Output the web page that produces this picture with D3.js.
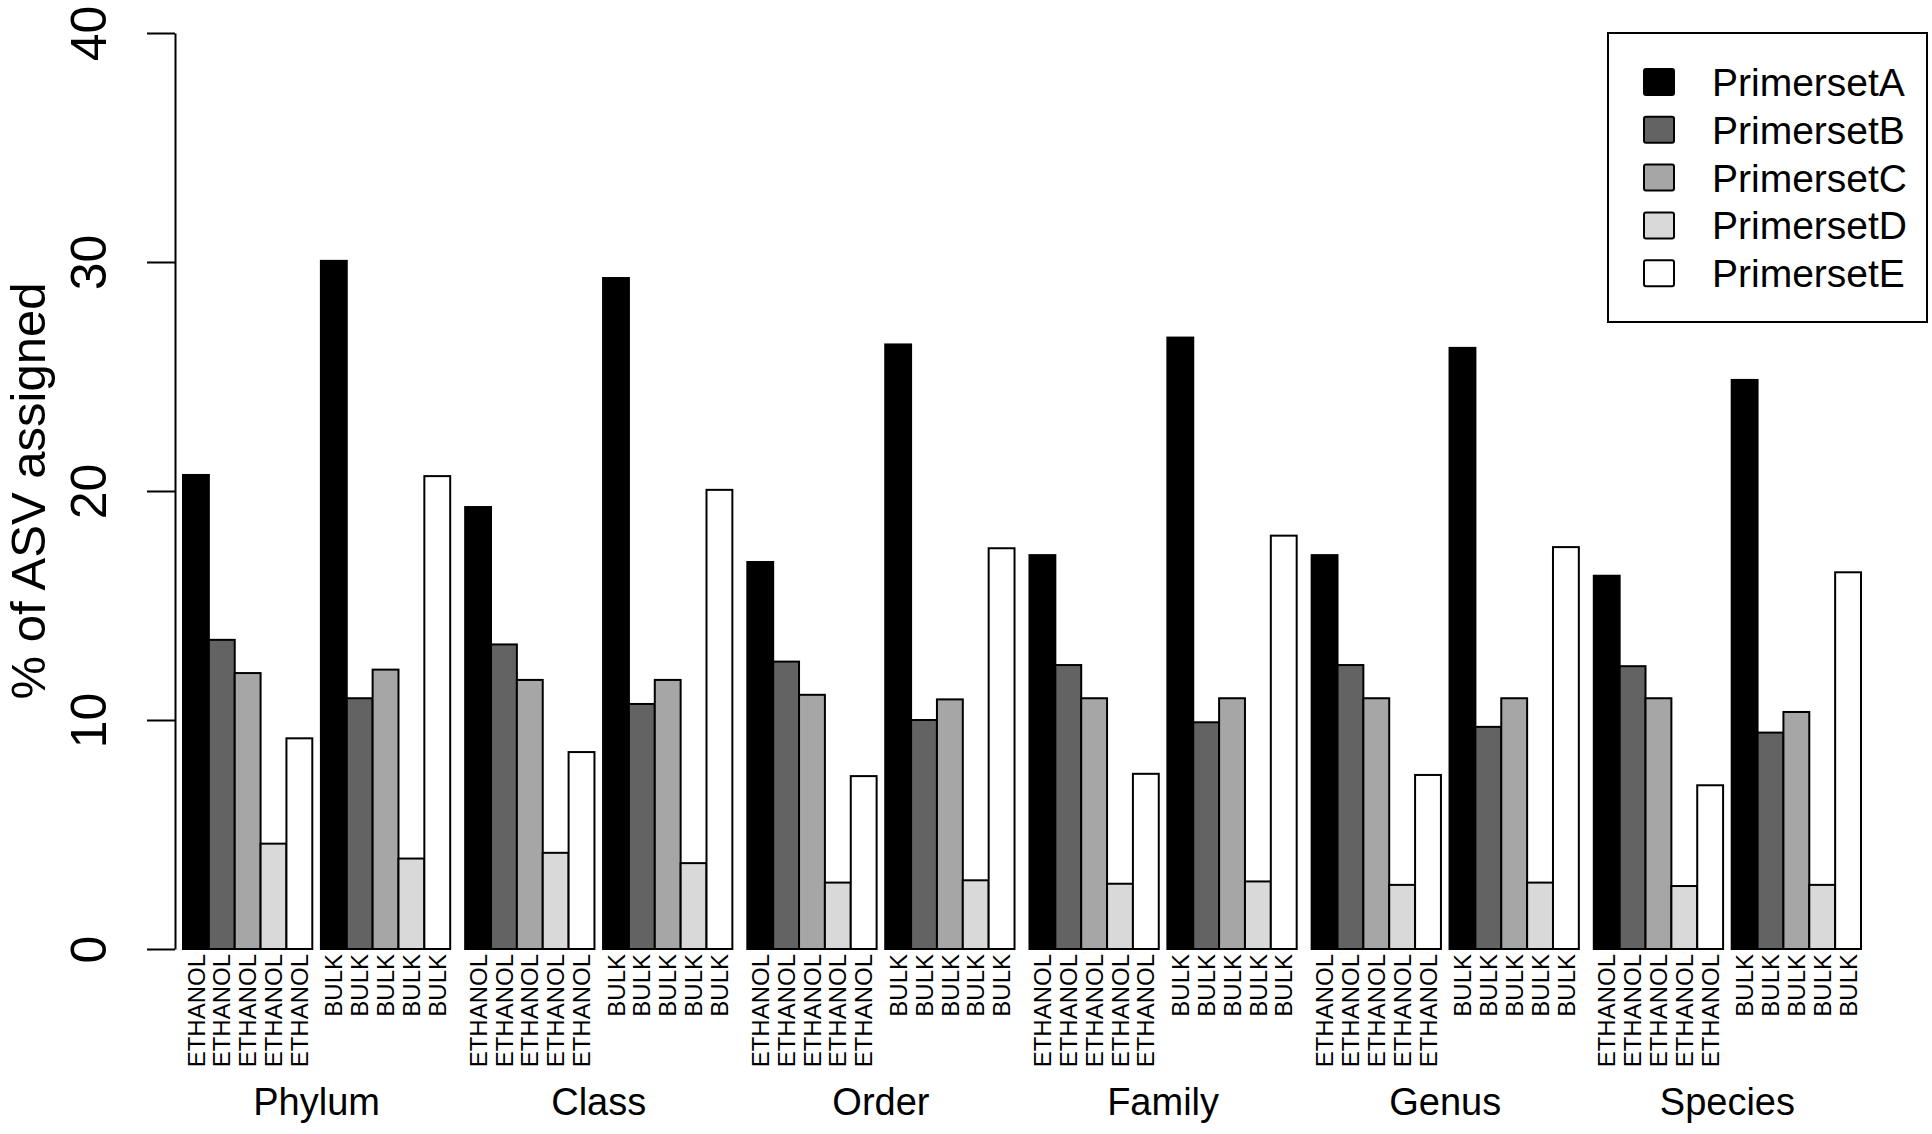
<!DOCTYPE html>
<html>
<head>
<meta charset="utf-8">
<script src="https://cdn.jsdelivr.net/npm/d3@7"></script>
<style>
  body { margin: 0; background: #fff; }
  text { font-family: "Liberation Sans", Arial, Helvetica, sans-serif; fill: #000; }
</style>
</head>
<body>
<svg width="1932" height="1134"></svg>
<script>
// taxonomic levels, preservation method, primer sets
var levels = ["Phylum", "Class", "Order", "Family", "Genus", "Species"];
var methods = ["ETHANOL", "BULK"];
var primersets = ["PrimersetA", "PrimersetB", "PrimersetC", "PrimersetD", "PrimersetE"];
var yTicks = [0, 10, 20, 30, 40];

// % of ASV assigned, order: Phylum ETHANOL, Phylum BULK, Class ETHANOL, ...
var primersetA = [20.7, 30.05, 19.3, 29.3, 16.9, 26.4, 17.2, 26.7, 17.2, 26.25, 16.3, 24.85];
var primersetB = [13.5, 10.95, 13.3, 10.7, 12.55, 10.0, 12.4, 9.9, 12.4, 9.7, 12.35, 9.45];
var primersetC = [12.05, 12.2, 11.75, 11.75, 11.1, 10.9, 10.95, 10.95, 10.95, 10.95, 10.95, 10.35];
var primersetD = [4.6, 3.95, 4.2, 3.75, 2.9, 3.0, 2.85, 2.95, 2.8, 2.9, 2.75, 2.8];
var primersetE = [9.2, 20.65, 8.6, 20.05, 7.55, 17.5, 7.65, 18.05, 7.6, 17.55, 7.15, 16.45];

var values = [primersetA, primersetB, primersetC, primersetD, primersetE];
var fills = ["#000000", "#636363", "#a6a6a6", "#d9d9d9", "#ffffff"];

var svg = d3.select("svg");

var y = d3.scaleLinear().domain([0, 40]).range([949, 33]);

// nested band scales: level -> method -> primer set
var x0 = d3.scaleBand().domain(levels).range([183, 1861]).paddingInner(0.053);
var x1 = d3.scaleBand().domain(methods).range([0, x0.bandwidth()]).paddingInner(0.0624);
var x2 = d3.scaleBand().domain(primersets).range([0, x1.bandwidth()]);

var color = d3.scaleOrdinal().domain(primersets).range(fills);

// flatten into bar records
var bars = [];
levels.forEach(function(lv, i) {
  methods.forEach(function(m, j) {
    primersets.forEach(function(p, k) {
      bars.push({level: lv, method: m, primer: p, value: values[k][i * 2 + j]});
    });
  });
});

function barX(d) { return x0(d.level) + x1(d.method) + x2(d.primer); }

svg.append("g")
  .selectAll("rect")
  .data(bars)
  .enter().append("rect")
    .attr("x", barX)
    .attr("y", function(d) { return y(d.value); })
    .attr("width", x2.bandwidth())
    .attr("height", function(d) { return y(0) - y(d.value); })
    .attr("fill", function(d) { return color(d.primer); })
    .attr("stroke", "#000")
    .attr("stroke-width", 2);

// y axis, R style: vertical tick labels
var yAxis = svg.append("g")
    .attr("transform", "translate(175,0)")
    .call(d3.axisLeft(y).tickValues(yTicks).tickSize(28).tickSizeOuter(0));
yAxis.select(".domain").attr("stroke-width", 2);
yAxis.selectAll(".tick line").attr("stroke-width", 2);
yAxis.selectAll(".tick text")
    .attr("x", 0)
    .attr("y", -69)
    .attr("dy", 0)
    .attr("transform", "rotate(-90)")
    .attr("text-anchor", "middle")
    .style("font-size", "50px")
    .style("font-family", "'Liberation Sans', Arial, sans-serif");

svg.append("text")
    .attr("transform", "translate(45," + ((y(0) + y(40)) / 2) + ") rotate(-90)")
    .attr("text-anchor", "middle")
    .style("font-size", "49px")
    .text("% of ASV assigned");

// bar labels (ETHANOL / BULK under each bar)
svg.append("g")
  .selectAll("text")
  .data(bars)
  .enter().append("text")
    .attr("transform", function(d) {
      return "translate(" + (barX(d) + x2.bandwidth() / 2) + ",954) rotate(-90)";
    })
    .attr("text-anchor", "end")
    .attr("dy", "0.36em")
    .style("font-size", "24px")
    .text(function(d) { return d.method; });

// level labels
svg.append("g")
  .selectAll("text")
  .data(levels)
  .enter().append("text")
    .attr("x", function(d) { return x0(d) + x0.bandwidth() / 2; })
    .attr("y", 1115)
    .attr("text-anchor", "middle")
    .style("font-size", "38px")
    .text(function(d) { return d; });

// legend
var legend = svg.append("g");
legend.append("rect")
    .attr("x", 1608).attr("y", 33)
    .attr("width", 319).attr("height", 289)
    .attr("fill", "#fff").attr("stroke", "#000").attr("stroke-width", 2);

var rows = legend.selectAll(".row")
  .data(primersets)
  .enter().append("g")
    .attr("class", "row")
    .attr("transform", function(d, i) { return "translate(0," + (82 + i * 47.8) + ")"; });

rows.append("rect")
    .attr("x", 1644).attr("y", -13)
    .attr("width", 30).attr("height", 26)
    .attr("rx", 2)
    .attr("fill", function(d) { return color(d); })
    .attr("stroke", "#000").attr("stroke-width", 2);

rows.append("text")
    .attr("x", 1712)
    .attr("dy", "0.36em")
    .style("font-size", "39px")
    .text(function(d) { return d; });
</script>
</body>
</html>
